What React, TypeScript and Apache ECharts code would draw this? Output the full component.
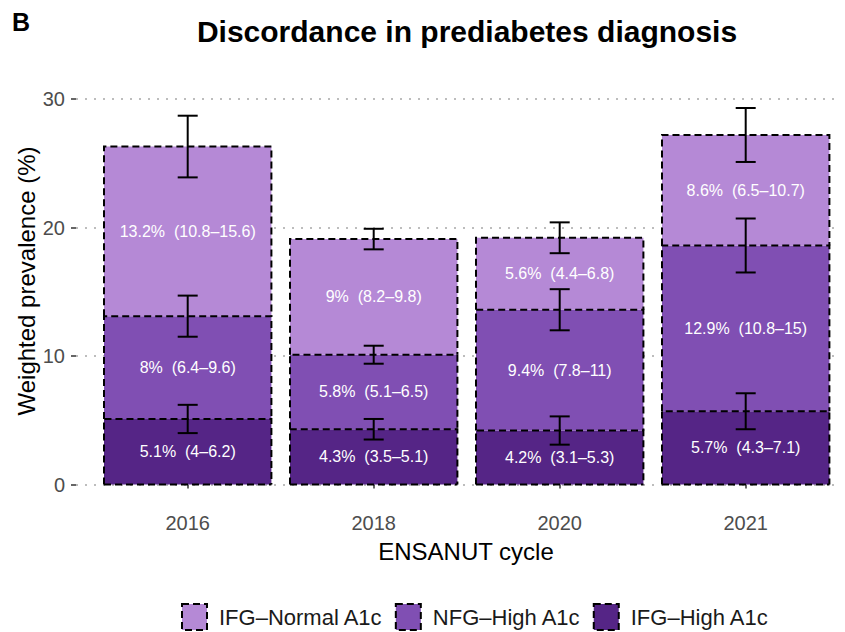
import React, { useEffect, useRef } from "react";
import * as echarts from "echarts";

const cycles = ["2016", "2018", "2020", "2021"];

const ifgHigh = [5.1, 4.3, 4.2, 5.7];
const ifgHighLo = [4, 3.5, 3.1, 4.3];
const ifgHighHi = [6.2, 5.1, 5.3, 7.1];

const nfgHigh = [8, 5.8, 9.4, 12.9];
const nfgHighLo = [6.4, 5.1, 7.8, 10.8];
const nfgHighHi = [9.6, 6.5, 11, 15];

const ifgNormal = [13.2, 9, 5.6, 8.6];
const ifgNormalLo = [10.8, 8.2, 4.4, 6.5];
const ifgNormalHi = [15.6, 9.8, 6.8, 10.7];

const yTicks = [0, 10, 20, 30];

const FONT = "'Liberation Sans', Arial, Helvetica, sans-serif";

const App: React.FC = () => {
  const ref = useRef<HTMLDivElement>(null);

  useEffect(() => {
    if (!ref.current) return;
    const chart = echarts.init(ref.current, undefined, { renderer: "svg" });

    const layers = [
      { name: "IFG–High A1c", vals: ifgHigh, lo: ifgHighLo, hi: ifgHighHi, color: "#552586" },
      { name: "NFG–High A1c", vals: nfgHigh, lo: nfgHighLo, hi: nfgHighHi, color: "#804fb3" },
      { name: "IFG–Normal A1c", vals: ifgNormal, lo: ifgNormalLo, hi: ifgNormalHi, color: "#b589d6" },
    ];

    const dash = [7, 4];

    const barSeries = layers.map((L) => ({
      type: "bar",
      name: L.name,
      stack: "total",
      xAxisIndex: 0,
      yAxisIndex: 0,
      barWidth: "90%",
      data: L.vals,
      itemStyle: { color: L.color, borderWidth: 0 },
      label: {
        show: true,
        position: "inside",
        color: "#ffffff",
        fontSize: 16,
        fontFamily: FONT,
        formatter: (p: any) => `${L.vals[p.dataIndex]}%  (${L.lo[p.dataIndex]}–${L.hi[p.dataIndex]})`,
      },
      z: 2,
    }));

    const errData: number[][] = [];
    const boxData: number[][] = [];
    cycles.forEach((_, i) => {
      let below = 0;
      layers.forEach((L) => {
        errData.push([i, below + L.lo[i], below + L.hi[i]]);
        boxData.push([i, below, below + L.vals[i]]);
        below += L.vals[i];
      });
    });

    const boxSeries = {
      type: "custom",
      name: "outline",
      xAxisIndex: 0,
      yAxisIndex: 0,
      z: 4,
      silent: true,
      data: boxData,
      encode: { x: 0, y: [1, 2] },
      renderItem: (params: any, api: any) => {
        const x = api.value(0);
        const v0 = api.value(1);
        const p0 = api.coord([x, v0]);
        const p1 = api.coord([x, api.value(2)]);
        const w = api.size([1, 0])[0] * 0.9;
        const xl = p0[0] - w / 2;
        const xr = p0[0] + w / 2;
        const style = { fill: "none", stroke: "#000", lineWidth: 2, lineDash: dash };
        const children: any[] = [
          {
            type: "polyline",
            shape: { points: [[xl, p0[1]], [xl, p1[1]], [xr, p1[1]], [xr, p0[1]]] },
            style,
          },
        ];
        if (v0 === 0) {
          children.push({ type: "line", shape: { x1: xl, y1: p0[1], x2: xr, y2: p0[1] }, style });
        }
        return { type: "group", children };
      },
    };

    const errSeries = {
      type: "custom",
      name: "ci",
      xAxisIndex: 0,
      yAxisIndex: 0,
      z: 5,
      silent: true,
      data: errData,
      encode: { x: 0, y: [1, 2] },
      renderItem: (params: any, api: any) => {
        const x = api.value(0);
        const pLo = api.coord([x, api.value(1)]);
        const pHi = api.coord([x, api.value(2)]);
        const hw = 10;
        const style = { stroke: "#000", lineWidth: 2 };
        return {
          type: "group",
          children: [
            { type: "line", shape: { x1: pLo[0], y1: pLo[1], x2: pHi[0], y2: pHi[1] }, style },
            { type: "line", shape: { x1: pLo[0] - hw, y1: pLo[1], x2: pLo[0] + hw, y2: pLo[1] }, style },
            { type: "line", shape: { x1: pHi[0] - hw, y1: pHi[1], x2: pHi[0] + hw, y2: pHi[1] }, style },
          ],
        };
      },
    };

    const top = 99;
    const bottom = 632 - 484.5;

    chart.setOption({
      animation: false,
      backgroundColor: "#ffffff",
      textStyle: { fontFamily: FONT },
      grid: [
        { left: 94.7, right: 6.3, top, bottom },
        { left: 76, right: 7, top, bottom },
      ],
      xAxis: [
        {
          type: "category",
          gridIndex: 0,
          data: cycles,
          offset: 21,
          axisLine: { show: false },
          axisTick: { show: true, alignWithLabel: true, length: 4, lineStyle: { color: "#333", width: 1.5 } },
          axisLabel: { fontSize: 20, color: "#4d4d4d", margin: 7, fontFamily: FONT },
          splitLine: { show: false },
        },
        { type: "value", gridIndex: 1, min: 0, max: 1, show: false },
      ],
      yAxis: [
        { type: "value", gridIndex: 0, min: 0, max: 30, interval: 10, show: false },
        {
          type: "value",
          gridIndex: 1,
          min: yTicks[0],
          max: yTicks[yTicks.length - 1],
          interval: 10,
          axisLine: { show: false },
          axisTick: { show: true, length: 5, lineStyle: { color: "#333", width: 1.5 } },
          axisLabel: { fontSize: 20, color: "#4d4d4d", margin: 11, fontFamily: FONT },
          splitLine: { show: true, lineStyle: { color: "#bdbdbd", width: 2, type: [2, 7] } },
        },
      ],
      legend: {
        data: ["IFG–Normal A1c", "NFG–High A1c", "IFG–High A1c"],
        left: 181,
        top: 603,
        padding: 0,
        icon: "rect",
        itemWidth: 25,
        itemHeight: 26,
        itemGap: 12,
        textStyle: { fontSize: 22, color: "#1a1a1a", fontFamily: FONT, padding: [0, 0, 0, 7] },
        itemStyle: { borderColor: "#000", borderWidth: 2, borderType: dash },
      },
      graphic: [
        {
          type: "text",
          x: 467,
          y: 31,
          style: {
            text: "Discordance in prediabetes diagnosis",
            fontSize: 30,
            fontWeight: "bold",
            fontFamily: FONT,
            fill: "#000",
            textAlign: "center",
            textVerticalAlign: "middle",
          },
        },
        {
          type: "text",
          x: 21,
          y: 22,
          style: {
            text: "B",
            fontSize: 25,
            fontWeight: "bold",
            fontFamily: FONT,
            fill: "#000",
            textAlign: "center",
            textVerticalAlign: "middle",
          },
        },
        {
          type: "text",
          x: 466,
          y: 551,
          style: {
            text: "ENSANUT cycle",
            fontSize: 24,
            fontFamily: FONT,
            fill: "#000",
            textAlign: "center",
            textVerticalAlign: "middle",
          },
        },
        {
          type: "text",
          x: 26,
          y: 281,
          rotation: Math.PI / 2,
          style: {
            text: "Weighted prevalence (%)",
            fontSize: 24,
            fontFamily: FONT,
            fill: "#000",
            textAlign: "center",
            textVerticalAlign: "middle",
          },
        },
      ],
      series: [...barSeries, boxSeries, errSeries],
    } as any);

    return () => chart.dispose();
  }, []);

  return (
    <div
      ref={ref}
      style={{ position: "absolute", left: 0, top: 0, width: 845, height: 632 }}
    />
  );
};

export default App;
